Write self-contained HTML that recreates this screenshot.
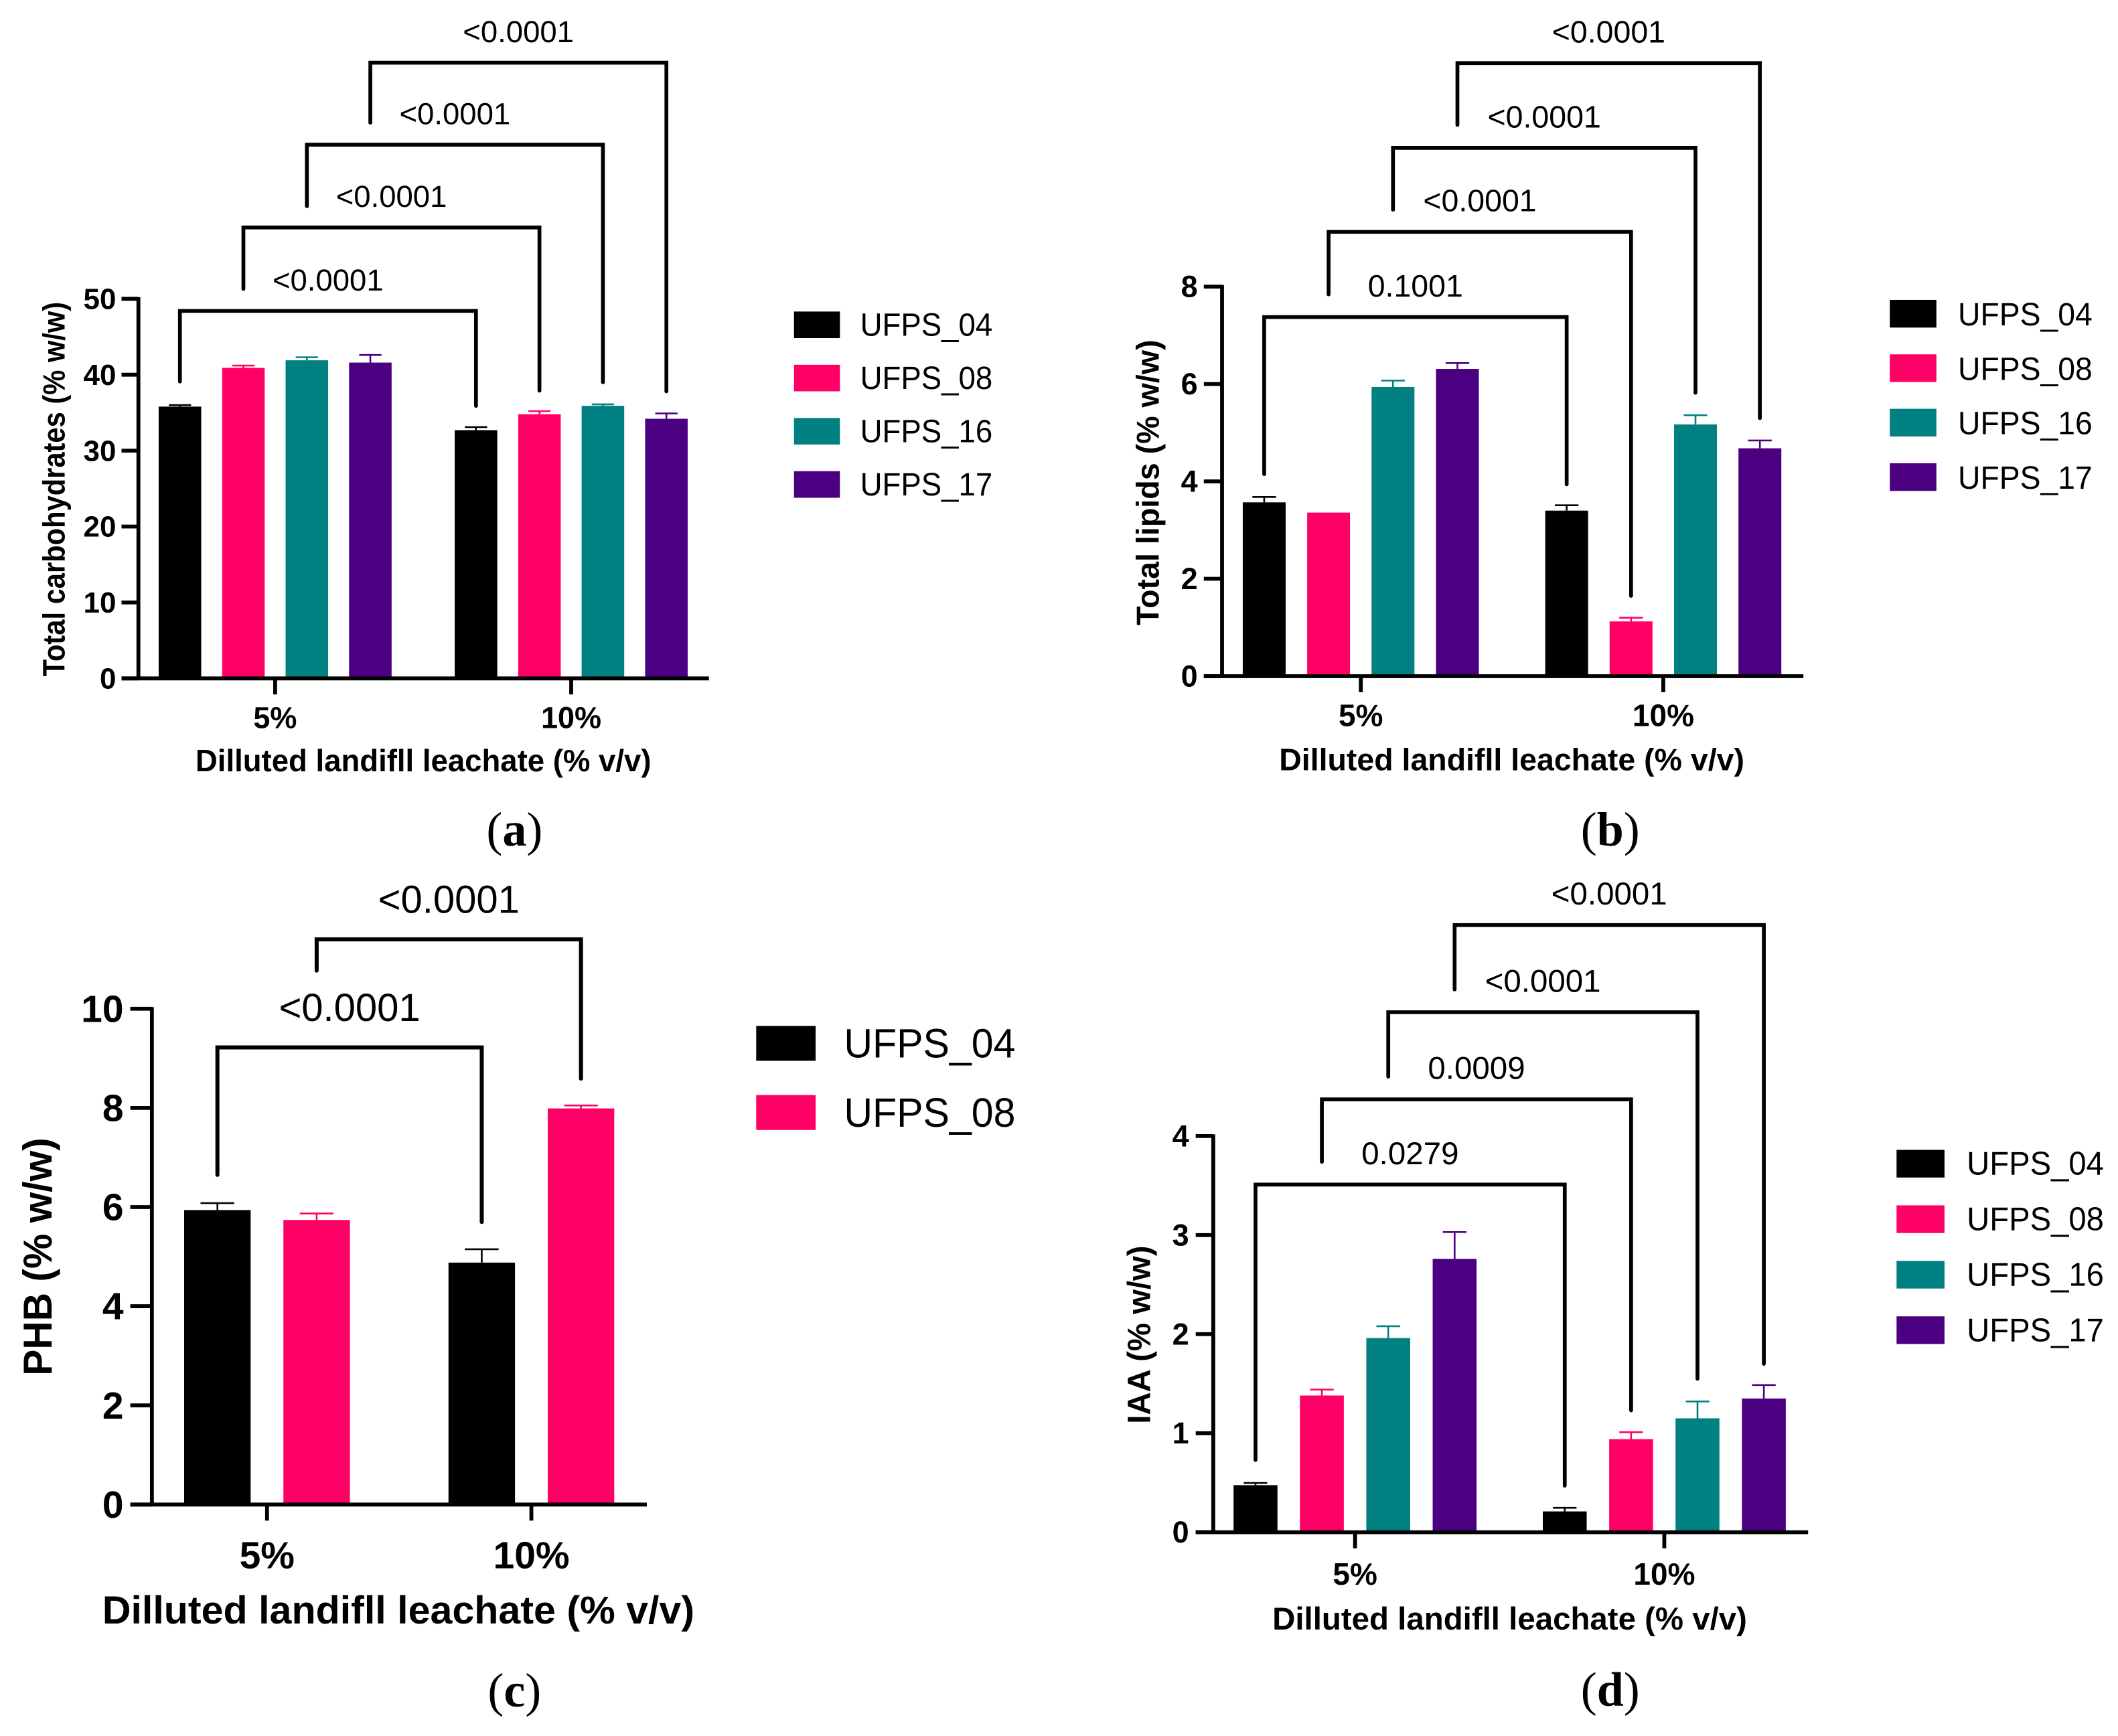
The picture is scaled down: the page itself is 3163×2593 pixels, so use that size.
<!DOCTYPE html>
<html lang="en">
<head>
<meta charset="utf-8">
<title>Four bar chart panels</title>
<style>
html,body{margin:0;padding:0;background:#fff;overflow:hidden;}
svg{display:block;}
text{font-family:"Liberation Sans",Arial,sans-serif;fill:#000;}
text.serif{font-family:"Liberation Serif","Times New Roman",serif;}
line,path{vector-effect:non-scaling-stroke;}
</style>
</head>
<body>
<svg id="figure" xmlns="http://www.w3.org/2000/svg" width="3163" height="2593" viewBox="0 0 3163 2593"></svg>
<script>
// ---- shared categories and series ----
const categories = ['5%', '10%'];
const seriesNames = ['UFPS_04', 'UFPS_08', 'UFPS_16', 'UFPS_17'];
const seriesColors = ['#000000', '#FF0066', '#008080', '#4B0082'];

// ---- panel (a) Total carbohydrates: values per series, per category ----
const carbTicks = [0, 10, 20, 30, 40, 50];
const carbMeans04 = [35.8, 32.7];
const carbMeans08 = [40.9, 34.8];
const carbMeans16 = [41.9, 35.9];
const carbMeans17 = [41.6, 34.2];
const carbUpper04 = [36.0, 33.1];
const carbUpper08 = [41.2, 35.2];
const carbUpper16 = [42.3, 36.1];
const carbUpper17 = [42.6, 34.9];
const carbPValues = ['<0.0001', '<0.0001', '<0.0001', '<0.0001'];
const carbBracketTop = [48.4, 59.4, 70.3, 81.1];
const carbBracketLeftEnd = [39.1, 51.3, 62.2, 73.2];
const carbBracketRightEnd = [35.9, 37.9, 39.0, 37.8];

// ---- panel (b) Total lipids ----
const lipidTicks = [0, 2, 4, 6, 8];
const lipidMeans04 = [3.57, 3.40];
const lipidMeans08 = [3.36, 1.125];
const lipidMeans16 = [5.94, 5.17];
const lipidMeans17 = [6.31, 4.68];
const lipidUpper04 = [3.68, 3.51];
const lipidUpper08 = [3.36, 1.20];
const lipidUpper16 = [6.07, 5.36];
const lipidUpper17 = [6.43, 4.84];
const lipidPValues = ['0.1001', '<0.0001', '<0.0001', '<0.0001'];
const lipidBracketTop = [7.375, 9.125, 10.85, 12.59];
const lipidBracketLeftEnd = [4.15, 7.84, 9.58, 11.32];
const lipidBracketRightEnd = [3.94, 1.65, 5.82, 5.30];

// ---- panel (c) PHB ----
const phbTicks = [0, 2, 4, 6, 8, 10];
const phbMeans04 = [5.94, 4.88];
const phbMeans08 = [5.74, 7.99];
const phbUpper04 = [6.08, 5.15];
const phbUpper08 = [5.87, 8.05];
const phbPValues = ['<0.0001', '<0.0001'];
const phbBracketTop = [9.22, 11.40];
const phbBracketLeftEnd = [6.65, 10.77];
const phbBracketRightEnd = [5.70, 8.59];

// ---- panel (d) IAA ----
const iaaTicks = [0, 1, 2, 3, 4];
const iaaMeans04 = [0.475, 0.21];
const iaaMeans08 = [1.38, 0.94];
const iaaMeans16 = [1.96, 1.15];
const iaaMeans17 = [2.76, 1.35];
const iaaUpper04 = [0.497, 0.246];
const iaaUpper08 = [1.44, 1.01];
const iaaUpper16 = [2.08, 1.32];
const iaaUpper17 = [3.03, 1.486];
const iaaPValues = ['0.0279', '0.0009', '<0.0001', '<0.0001'];
const iaaBracketTop = [3.51, 4.37, 5.25, 6.13];
const iaaBracketLeftEnd = [0.73, 3.74, 4.60, 5.48];
const iaaBracketRightEnd = [0.47, 1.23, 1.55, 1.70];

const SVGNS = 'http://www.w3.org/2000/svg';
const KX = 1.0083;
const KY = 0.8265;

function mk(parent, tag, attrs) {
  const el = document.createElementNS(SVGNS, tag);
  for (const k in attrs) el.setAttribute(k, attrs[k]);
  parent.appendChild(el);
  return el;
}
// x,y in panel layout units; size in real pixels; len in panel layout units along the text direction.
function txt(parent, str, x, y, size, weight, anchor, len, rot) {
  const a = {'font-size': size, 'font-weight': weight, 'text-anchor': anchor, x: 0, y: 0};
  if (len) { a.textLength = len * (rot ? KY : KX); a.lengthAdjust = 'spacingAndGlyphs'; }
  a.transform = 'translate(' + x + ' ' + y + ') scale(' + (1 / KX) + ' ' + (1 / KY) + ')' + (rot ? ' rotate(-90)' : '');
  const el = mk(parent, 'text', a);
  el.textContent = str;
  return el;
}

function drawPanel(p) {
  const root = document.getElementById('figure');
  const g = mk(root, 'g', {transform: 'translate(' + p.ox + ' ' + p.oy + ') scale(' + KX + ' ' + KY + ')'});
  
  

  const yMax = p.ticks[p.ticks.length - 1];
  const unit = (p.base - p.topPx) / yMax;
  const yScale = function (v) { return p.base - v * unit; };
  const nSeries = p.means.length;
  const groupX = function (c) { return p.group0 + c * p.groupStep; };
  const barX = function (c, s) { return groupX(c) + (s - (nSeries - 1) / 2) * p.barStep; };

  // bars and error bars
  p.means.forEach(function (vals, s) {
    vals.forEach(function (v, c) {
      const cx = barX(c, s);
      const color = seriesColors[s];
      const up = p.upper[s][c];
      if (up > v) {
        const stem = mk(g, 'line', {x1: cx, x2: cx, y1: yScale(v), y2: yScale(up), stroke: color, 'stroke-width': 2.6});
        
        
        const cap = mk(g, 'line', {x1: cx - p.capW / 2, x2: cx + p.capW / 2, y1: yScale(up), y2: yScale(up), stroke: color, 'stroke-width': 2.6});
        
        
      }
      const bar = mk(g, 'rect', {x: cx - p.barW / 2, y: yScale(v), width: p.barW, height: p.base - yScale(v), fill: color});
      
      
    });
  });

  // y axis
  const yAxis = mk(g, 'line', {x1: p.axisX, x2: p.axisX, y1: yScale(yMax) - 3, y2: p.base + 3, stroke: '#000', 'stroke-width': 5.8});
  
  
  p.ticks.forEach(function (t) {
    const tick = mk(g, 'line', {x1: p.tickL, x2: p.axisX, y1: yScale(t), y2: yScale(t), stroke: '#000', 'stroke-width': 5.8});
    
    
    const label = txt(g, String(t), p.tickTextX, yScale(t) + p.tickSize * 0.345 / KY, p.tickSize, 700, 'end');
    
    
  });

  // x axis
  const xAxis = mk(g, 'line', {x1: p.tickL, x2: p.axisEnd, y1: p.base, y2: p.base, stroke: '#000', 'stroke-width': 5.8});
  
  
  categories.forEach(function (cat, c) {
    const tick = mk(g, 'line', {x1: groupX(c), x2: groupX(c), y1: p.base, y2: p.base + 29, stroke: '#000', 'stroke-width': 5.8});
    
    
    const label = txt(g, cat, groupX(c), p.catBase, p.catSize, 700, 'middle');
    
    
  });

  // axis titles
  const xTitle = txt(g, 'Dilluted landifll leachate (% v/v)', p.xTitleX, p.xTitleBase, p.xTitleSize, 700, 'middle', p.xTitleLen);
  
  
  const yTitle = txt(g, p.yTitle, p.yTitleX, p.yTitleY, p.yTitleSize, 700, 'middle', p.yTitleLen, true);
  
  

  // significance brackets: series i at first category to series i at second category
  p.pValues.forEach(function (pv, i) {
    const xL = barX(0, i), xR = barX(1, i);
    const yT = yScale(p.bTop[i]);
    const d = 'M' + xL + ' ' + yScale(p.bLeft[i]) + ' V' + yT + ' H' + xR + ' V' + yScale(p.bRight[i]);
    const br = mk(g, 'path', {d: d, fill: 'none', stroke: '#000', 'stroke-width': p.bStroke, 'stroke-linejoin': 'miter', 'stroke-linecap': 'round'});
    
    
    const label = txt(g, pv, (xL + xR) / 2, yT - p.pOffset, p.pSize, 400, 'middle');
    
    
  });

  // legend
  p.means.forEach(function (_, s) {
    const top = p.legTop + s * p.legStep;
    const entry = mk(g, 'g', {});
    
    
    const sw = mk(entry, 'rect', {x: p.legX, y: top, width: p.legW, height: p.legH, fill: seriesColors[s]});
    
    
    const lt = txt(entry, seriesNames[s], p.legTextX, top + p.legBase, p.legSize, 400, 'start', p.legLen);
    
    
  });

  // panel letter: regular parentheses around a bold letter
  const letter = txt(g, '', p.letterX, p.letterBase, 72, 400, 'middle');
  letter.setAttribute('class', 'serif');
  
  
  mk(letter, 'tspan', {}).textContent = '(';
  mk(letter, 'tspan', {'font-weight': 700}).textContent = p.letter;
  mk(letter, 'tspan', {}).textContent = ')';
}

drawPanel({
  ox: 0, oy: 0, ticks: carbTicks,
  means: [carbMeans04, carbMeans08, carbMeans16, carbMeans17],
  upper: [carbUpper04, carbUpper08, carbUpper16, carbUpper17],
  pValues: carbPValues, bTop: carbBracketTop, bLeft: carbBracketLeftEnd, bRight: carbBracketRightEnd,
  base: 1226, topPx: 540, axisX: 205, axisEnd: 1050, tickL: 180,
  group0: 407.5, groupStep: 438.5, barStep: 94, barW: 63, capW: 33,
  tickSize: 44, tickTextX: 172,
  catBase: 1316, catSize: 45,
  xTitleX: 627, xTitleBase: 1394, xTitleSize: 46, xTitleLen: 675,
  yTitle: 'Total carbohydrates (% w/w)', yTitleX: 95.5, yTitleY: 884, yTitleSize: 46, yTitleLen: 677,
  bStroke: 5.7, pOffset: 37, pSize: 45.5,
  legX: 1176, legW: 68, legTop: 563, legH: 48, legStep: 96.2,
  legTextX: 1274, legBase: 44, legSize: 48, legLen: 196,
  letter: 'a', letterX: 762, letterBase: 1528
});

drawPanel({
  ox: 1581, oy: 0, ticks: lipidTicks,
  means: [lipidMeans04, lipidMeans08, lipidMeans16, lipidMeans17],
  upper: [lipidUpper04, lipidUpper08, lipidUpper16, lipidUpper17],
  pValues: lipidPValues, bTop: lipidBracketTop, bLeft: lipidBracketLeftEnd, bRight: lipidBracketRightEnd,
  base: 1222, topPx: 518, axisX: 242, axisEnd: 1103, tickL: 215,
  group0: 447.5, groupStep: 448, barStep: 95.4, barW: 63.5, capW: 35,
  tickSize: 45, tickTextX: 206,
  catBase: 1312, catSize: 46,
  xTitleX: 671, xTitleBase: 1392, xTitleSize: 46, xTitleLen: 689,
  yTitle: 'Total lipids (% w/w)', yTitleX: 148.5, yTitleY: 872, yTitleSize: 47, yTitleLen: 516,
  bStroke: 5.7, pOffset: 37, pSize: 46.5,
  legX: 1231, legW: 69, legTop: 542, legH: 50, legStep: 98.4,
  legTextX: 1332, legBase: 46, legSize: 48.5, legLen: 199,
  letter: 'b', letterX: 817, letterBase: 1528
});

drawPanel({
  ox: 0, oy: 1296, ticks: phbTicks,
  means: [phbMeans04, phbMeans08],
  upper: [phbUpper04, phbUpper08],
  pValues: phbPValues, bTop: phbBracketTop, bLeft: phbBracketLeftEnd, bRight: phbBracketRightEnd,
  base: 1151, topPx: 255, axisX: 225, axisEnd: 958, tickL: 193,
  group0: 395.5, groupStep: 391.5, barStep: 147, barW: 98.5, capW: 50,
  tickSize: 57, tickTextX: 183,
  catBase: 1266, catSize: 57,
  xTitleX: 590, xTitleBase: 1366, xTitleSize: 58, xTitleLen: 877,
  yTitle: 'PHB (% w/w)', yTitleX: 76.5, yTitleY: 703, yTitleSize: 60, yTitleLen: 430,
  bStroke: 6, pOffset: 48, pSize: 58,
  legX: 1120, legW: 88, legTop: 286, legH: 63, legStep: 125,
  legTextX: 1250, legBase: 57, legSize: 61, legLen: 254,
  letter: 'c', letterX: 762, letterBase: 1516
});

drawPanel({
  ox: 1581, oy: 1296, ticks: iaaTicks,
  means: [iaaMeans04, iaaMeans08, iaaMeans16, iaaMeans17],
  upper: [iaaUpper04, iaaUpper08, iaaUpper16, iaaUpper17],
  pValues: iaaPValues, bTop: iaaBracketTop, bLeft: iaaBracketLeftEnd, bRight: iaaBracketRightEnd,
  base: 1201, topPx: 485, axisX: 229, axisEnd: 1110, tickL: 203,
  group0: 439, groupStep: 458, barStep: 98.3, barW: 65, capW: 35,
  tickSize: 45, tickTextX: 193,
  catBase: 1296, catSize: 46,
  xTitleX: 668, xTitleBase: 1377, xTitleSize: 47, xTitleLen: 703,
  yTitle: 'IAA (% w/w)', yTitleX: 135.5, yTitleY: 844, yTitleSize: 48, yTitleLen: 322,
  bStroke: 5.7, pOffset: 37, pSize: 47.5,
  legX: 1241, legW: 71, legTop: 510, legH: 50, legStep: 100.3,
  legTextX: 1345, legBase: 45, legSize: 49, legLen: 203,
  letter: 'd', letterX: 817, letterBase: 1514
});
</script>
</body>
</html>
